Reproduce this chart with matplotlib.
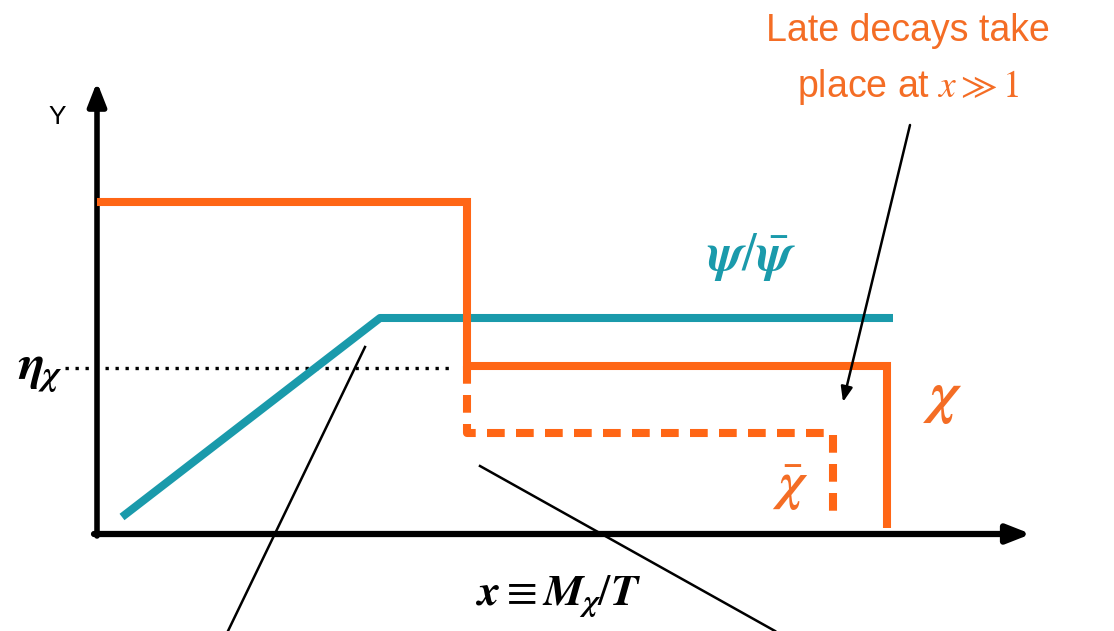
import matplotlib
matplotlib.use("Agg")
import matplotlib.pyplot as plt

plt.rcParams['mathtext.fontset'] = 'custom'
plt.rcParams['mathtext.rm'] = 'STIXGeneral'
plt.rcParams['mathtext.it'] = 'STIXGeneral:italic:bold'
plt.rcParams['mathtext.bf'] = 'STIXGeneral:italic:bold'
plt.rcParams['mathtext.sf'] = 'STIXGeneral:italic'

# ---- schematic data (units: origin at the axes corner) ----
chi_x = [0, 370, 370, 790, 790]
chi_y = [332, 332, 168, 168, 6]
chibar_x = [370, 370, 736, 736]
chibar_y = [168, 101, 101, 16]
psi_x = [25, 283, 796]
psi_y = [17, 216, 216]
eta_level = 166
eta_x = [-32, 353]

ORANGE = '#ff6615'
ORANGE_TXT = '#f46d25'
TEAL = '#1a9aab'

fig = plt.figure(figsize=(11.14, 6.31), dpi=100)
ax = fig.add_axes([0, 0, 1, 1])
ax.set_xlim(-97, 1017)
ax.set_ylim(-97, 534)
ax.axis('off')

# axes arrows
ax.annotate('', xy=(0, 452), xytext=(0, -2),
            arrowprops=dict(arrowstyle='-|>,head_length=1.4,head_width=0.55',
                            lw=4, color='black', shrinkA=0, shrinkB=0))
ax.annotate('', xy=(934, 0), xytext=(-3, 0),
            arrowprops=dict(arrowstyle='-|>,head_length=1.4,head_width=0.55',
                            lw=4.5, color='black', shrinkA=0, shrinkB=0))
ax.text(-40, 417, 'Y', fontsize=19, family='Liberation Sans', ha='center', va='center')

# curves
ax.plot(chi_x, chi_y, color=ORANGE, lw=5.8, solid_joinstyle='miter', solid_capstyle='butt', zorder=3)
ax.plot(chibar_x, chibar_y, color=ORANGE, lw=5.8, dashes=(2.2, 1.4),
        dash_capstyle='butt', zorder=3)
ax.plot(psi_x, psi_y, color=TEAL, lw=5.8, solid_capstyle='butt', zorder=2)

# dotted eta level
ax.plot(eta_x, [eta_level, eta_level], color='black', lw=2.4, ls=(0, (1, 2.0)), zorder=1)

# labels
ax.text(-57, 163, r'$\eta_\chi$', fontsize=36, ha='center', va='center')
ax.text(655, 277, r'$\psi/\bar{\psi}$', fontsize=38, color=TEAL, ha='center', va='center')
ax.text(846, 136, r'$\chi$', fontsize=42, color=ORANGE_TXT, ha='center', va='center')
ax.text(693, 47, r'$\bar{\chi}$', fontsize=38, color=ORANGE_TXT, ha='center', va='center')
ax.text(461, -62, r'$x \equiv M_\chi/T$', fontsize=32, ha='center', va='center')
ax.text(811, 503, 'Late decays take', fontsize=27, family='Liberation Sans',
        color=ORANGE_TXT, ha='center', va='center')
ax.text(811, 447, r'place at $\mathsf{x} \gg 1$', fontsize=27, family='Liberation Sans',
        color=ORANGE_TXT, ha='center', va='center')

# pointer lines
ax.annotate('', xy=(746, 132), xytext=(813, 409),
            arrowprops=dict(arrowstyle='-|>,head_length=0.9,head_width=0.35',
                            lw=1.8, color='black', shrinkA=0, shrinkB=0))
ax.plot([268, 131], [187, -97], color='black', lw=1.8)
ax.plot([383, 678], [68, -97], color='black', lw=1.8)

fig.savefig('out.png', dpi=100)
